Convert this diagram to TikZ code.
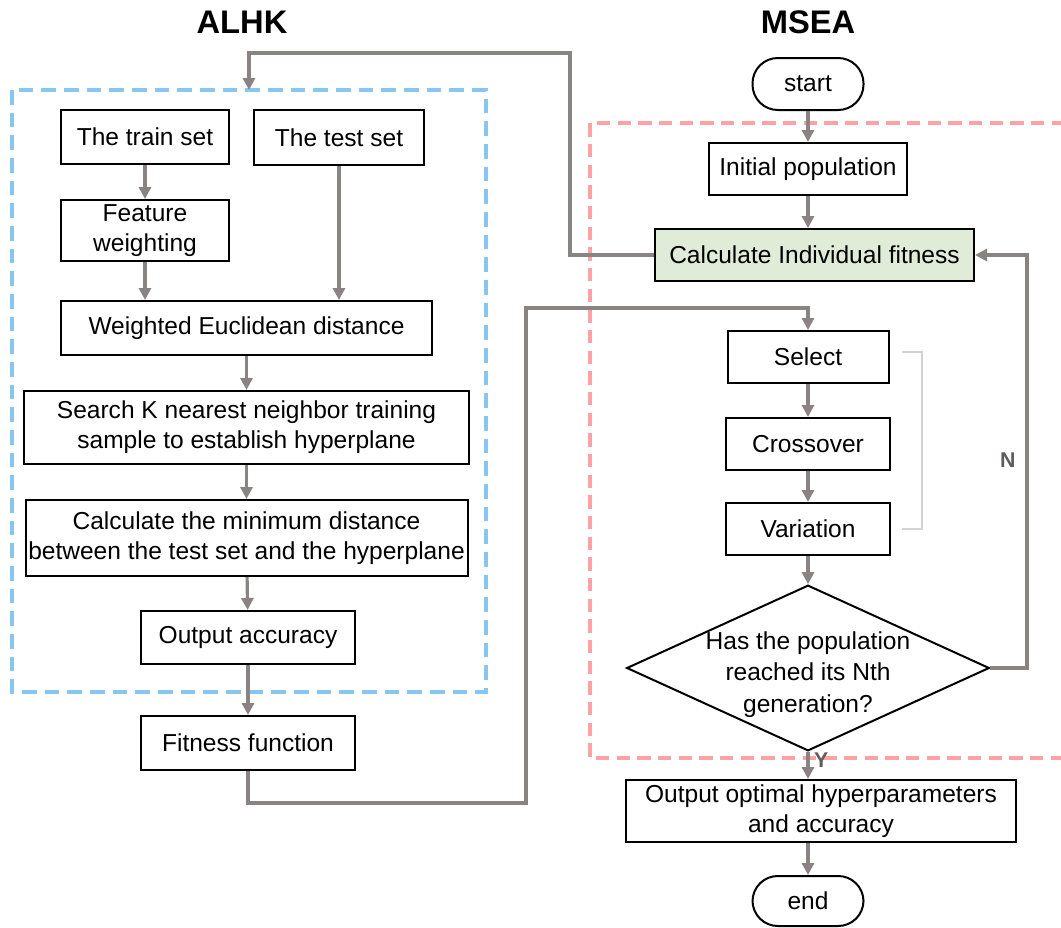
\documentclass[tikz,border=0pt]{standalone}
\usepackage{fontspec}
\setmainfont{Liberation Sans}
\usepackage{tikz}
\usetikzlibrary{arrows.meta, positioning, shapes.geometric}
\definecolor{conngray}{RGB}{138,131,131}
\definecolor{alhkblue}{RGB}{135,198,238}
\definecolor{mseared}{RGB}{255,162,166}
\definecolor{fitgreen}{RGB}{224,236,216}
\definecolor{bracketgray}{RGB}{214,209,209}

\begin{document}
\begin{tikzpicture}[
  x=0.75pt, y=-0.75pt,
  box/.style={draw, rectangle, line width=1.5pt, inner sep=0pt,
              font=\fontsize{18.4}{22.5}\selectfont, align=center},
  term/.style={box, rounded corners=19pt},
  decision/.style={draw, diamond, line width=1.5pt, inner xsep=-16pt, inner ysep=-34pt,
                   minimum width=272pt, minimum height=116pt,
                   font=\fontsize{18.4}{23.6}\selectfont, align=center},
  arr/.style={-{Triangle[length=9pt, width=9pt]}, conngray, line width=2.4pt},
  frameA/.style={alhkblue, line width=3pt, dash pattern=on 11pt off 6pt},
  frameB/.style={mseared, line width=2.6pt, dash pattern=on 10pt off 5.5pt},
  ttl/.style={font=\fontsize{24.5}{28}\selectfont\bfseries},
  yn/.style={font=\fontsize{16}{18}\selectfont\bfseries, conngray!70!black}
]
\useasboundingbox (0,0) rectangle (1061,928);
% titles
\node[ttl] (alhk) at (242,22) {ALHK};
\node[ttl] (msea) at (808,22) {MSEA};
% frames
\draw[frameA] (12,90) rectangle (486,692);
\draw[frameB] (1065,123) -- (590,123) -- (590,758) -- (1065,758);
\draw[bracketgray, line width=1pt] (902,352) -- (922,352) -- (922,529) -- (902,529);
% ALHK side
\node[box, minimum width=126pt, minimum height=40.5pt] (train) at (145,137) {The train set};
\node[box, minimum width=127.5pt, minimum height=41.25pt] (test) at (339,137.5) {The test set};
\node[box, minimum width=126pt, minimum height=45.75pt] (feature) at (145,230.5) {Feature\\weighting};
\node[box, minimum width=278.25pt, minimum height=40.5pt] (weighted) at (246.5,328) {Weighted Euclidean distance};
\node[box, minimum width=333.75pt, minimum height=54.75pt] (search) at (246.5,427.5)
  {Search K nearest neighbor training\\sample to establish hyperplane};
\node[box, minimum width=331.5pt, minimum height=57pt] (calcmin) at (246.5,538)
  {Calculate the minimum distance\\between the test set and the hyperplane};
\node[box, minimum width=160.5pt, minimum height=39.75pt] (outacc) at (248,637.5) {Output accuracy};
\node[box, minimum width=160.5pt, minimum height=40.5pt] (fitfun) at (248,743) {Fitness function};
% MSEA side
\node[term, minimum width=83.25pt, minimum height=39pt] (start) at (808,84) {start};
\node[box, minimum width=148.5pt, minimum height=39pt] (initpop) at (808,169) {Initial population};
\node[box, fill=fitgreen, minimum width=239.25pt, minimum height=39pt] (calcfit) at (814.5,255)
  {Calculate Individual fitness};
\node[box, minimum width=120.75pt, minimum height=39pt] (select) at (808,357) {Select};
\node[box, minimum width=123pt, minimum height=39pt] (cross) at (808,444) {Crossover};
\node[box, minimum width=123pt, minimum height=39pt] (variation) at (808,529) {Variation};
\node[decision] (decide) at (808,668)
  {\raisebox{-5pt}[\height][\depth]{\begin{tabular}{@{}c@{}}Has the population\\reached its Nth\\generation?\end{tabular}}};
\node[box, minimum width=292.5pt, minimum height=46.5pt] (outopt) at (821,811)
  {Output optimal hyperparameters\\and accuracy};
\node[term, minimum width=83.25pt, minimum height=37.5pt] (end) at (808,901) {end};
% turning points
\coordinate (lowturn) at (526,803);
\coordinate (highturn) at (526,308);
\coordinate (upturn) at (570,53);
\coordinate (alhktop) at (249,90);
\coordinate (nturn) at (1027,460);
% ALHK flow
\draw[arr] (train) -- (feature);
\draw[arr] (feature) -- (feature |- weighted.north);
\draw[arr] (test) -- (test |- weighted.north);
\draw[arr] (weighted) -- (search);
\draw[arr] (search) -- (calcmin);
\draw[arr] (calcmin) -- (outacc);
\draw[arr] (outacc) -- (fitfun);
% MSEA flow
\draw[arr] (start) -- (initpop);
\draw[arr] (initpop) -- (initpop |- calcfit.north);
\draw[arr] (select) -- (cross);
\draw[arr] (cross) -- (variation);
\draw[arr] (variation) -- (decide);
\draw[arr] (decide) -- node[yn, right, pos=0.3]{Y} (decide |- outopt.north);
\draw[arr] (outopt.south -| end) -- (end);
% loops between the two parts
\draw[arr] (fitfun.south) |- (lowturn) -- (highturn) -| (select.north);
\draw[arr] (calcfit.west) -| (upturn) -| (alhktop);
\draw[arr] (decide.east) -| (nturn) node[yn, left=4pt]{N} |- (calcfit.east);
\end{tikzpicture}
\end{document}
